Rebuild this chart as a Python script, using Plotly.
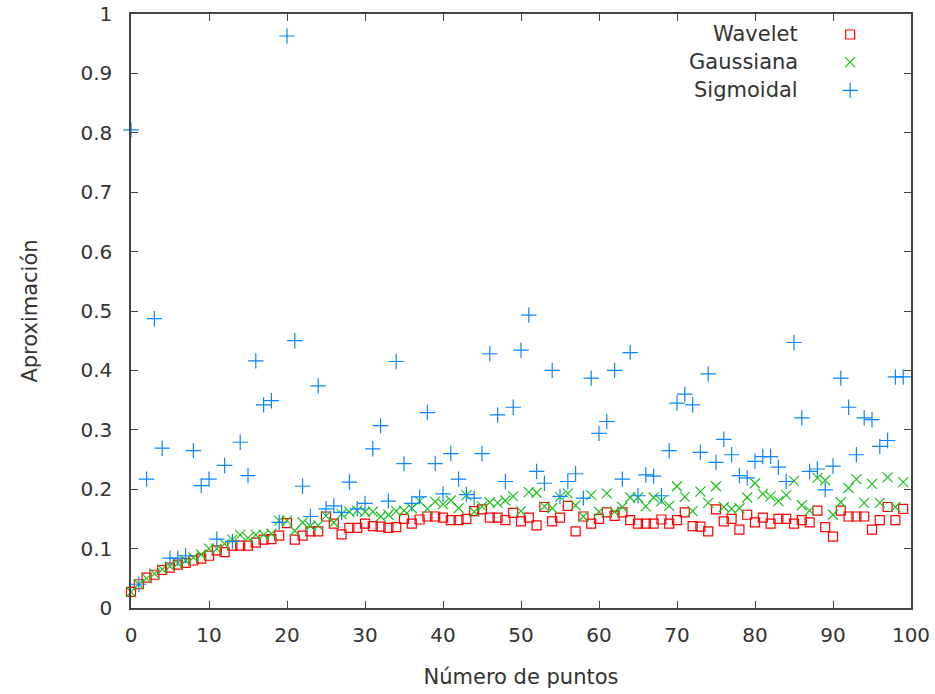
import plotly.graph_objects as go

# Number of points used in each approximation run
puntos = list(range(100))

wavelet = [
    0.027, 0.040, 0.051, 0.056, 0.064, 0.068, 0.073, 0.076, 0.080, 0.083,
    0.088, 0.097, 0.094, 0.105, 0.105, 0.105, 0.110, 0.115, 0.116, 0.122,
    0.143, 0.115, 0.122, 0.129, 0.129, 0.154, 0.142, 0.124, 0.135, 0.135,
    0.142, 0.138, 0.137, 0.135, 0.136, 0.150, 0.142, 0.149, 0.154, 0.154,
    0.152, 0.148, 0.148, 0.150, 0.163, 0.166, 0.152, 0.152, 0.148, 0.160,
    0.146, 0.152, 0.139, 0.170, 0.146, 0.152, 0.172, 0.129, 0.154, 0.142,
    0.150, 0.161, 0.155, 0.161, 0.148, 0.142, 0.142, 0.142, 0.149, 0.142,
    0.148, 0.161, 0.138, 0.137, 0.129, 0.166, 0.146, 0.150, 0.132, 0.157,
    0.144, 0.152, 0.142, 0.150, 0.150, 0.142, 0.148, 0.144, 0.164, 0.136,
    0.120, 0.164, 0.154, 0.154, 0.154, 0.132, 0.148, 0.170, 0.148, 0.167,
]

gaussiana = [
    0.027, 0.040, 0.050, 0.058, 0.065, 0.070, 0.075, 0.080, 0.085, 0.090,
    0.100, 0.100, 0.108, 0.115, 0.123, 0.118, 0.123, 0.123, 0.125, 0.147,
    0.147, 0.130, 0.144, 0.138, 0.139, 0.155, 0.144, 0.158, 0.162, 0.164,
    0.162, 0.162, 0.154, 0.157, 0.163, 0.164, 0.168, 0.180, 0.167, 0.179,
    0.175, 0.181, 0.168, 0.190, 0.162, 0.171, 0.178, 0.177, 0.181, 0.188,
    0.163, 0.195, 0.194, 0.171, 0.168, 0.187, 0.193, 0.173, 0.154, 0.190,
    0.162, 0.193, 0.162, 0.170, 0.186, 0.186, 0.171, 0.186, 0.180, 0.172,
    0.205, 0.187, 0.163, 0.196, 0.177, 0.205, 0.170, 0.167, 0.168, 0.186,
    0.210, 0.192, 0.188, 0.180, 0.190, 0.214, 0.173, 0.164, 0.219, 0.215,
    0.157, 0.178, 0.202, 0.217, 0.177, 0.209, 0.177, 0.220, 0.170, 0.212,
]

sigmoidal = [
    0.805, 0.040, 0.217, 0.487, 0.269, 0.084, 0.084, 0.088, 0.265, 0.206,
    0.217, 0.116, 0.240, 0.112, 0.279, 0.223, 0.416, 0.342, 0.349, 0.144,
    0.963, 0.450, 0.205, 0.154, 0.374, 0.167, 0.172, 0.161, 0.212, 0.167,
    0.176, 0.268, 0.307, 0.180, 0.415, 0.243, 0.176, 0.187, 0.329, 0.243,
    0.192, 0.260, 0.217, 0.191, 0.185, 0.260, 0.428, 0.325, 0.213, 0.338,
    0.434, 0.493, 0.230, 0.210, 0.400, 0.188, 0.213, 0.226, 0.185, 0.387,
    0.294, 0.314, 0.400, 0.217, 0.430, 0.189, 0.224, 0.222, 0.189, 0.265,
    0.345, 0.360, 0.342, 0.262, 0.394, 0.245, 0.284, 0.258, 0.223, 0.219,
    0.247, 0.255, 0.255, 0.237, 0.213, 0.447, 0.320, 0.230, 0.234, 0.199,
    0.239, 0.387, 0.338, 0.258, 0.320, 0.317, 0.272, 0.282, 0.389, 0.389,
]

x_ticks = [0, 10, 20, 30, 40, 50, 60, 70, 80, 90, 100]
y_ticks = [0, 0.1, 0.2, 0.3, 0.4, 0.5, 0.6, 0.7, 0.8, 0.9, 1]

series = [
    ("Wavelet", wavelet, "square-open", "#ff0000", 9),
    ("Gaussiana", gaussiana, "x-thin-open", "#1cc01c", 10),
    ("Sigmoidal", sigmoidal, "cross-thin-open", "#0a84ff", 11),
]

FONT = "DejaVu Sans"
TEXT = "#333333"
AXIS = "#444444"

fig = go.Figure()

for name, values, symbol, color, size in series:
    fig.add_trace(go.Scatter(
        x=puntos, y=values, mode="markers", name=name, showlegend=False,
        marker=dict(symbol=symbol, size=size, color=color,
                    line=dict(color=color, width=1.2)),
        cliponaxis=False,
    ))

# Key in the upper right corner: right-aligned label, symbol to its right
key_text_x = 0.858
key_mark_x = 0.922
key_rows = [0.9655, 0.919, 0.8714]
for (name, _, symbol, color, size), ky in zip(series, key_rows):
    fig.add_trace(go.Scatter(
        x=[key_mark_x], y=[ky], xaxis="x2", yaxis="y2", mode="markers",
        showlegend=False, hoverinfo="skip",
        marker=dict(symbol=symbol, size=size, color=color,
                    line=dict(color=color, width=1.2)),
    ))
    fig.add_annotation(
        x=key_text_x, y=ky, xref="paper", yref="paper", text=name,
        showarrow=False, xanchor="right", yanchor="middle",
        font=dict(family=FONT, size=21, color=TEXT),
    )

axis_common = dict(
    showline=True, linecolor=AXIS, linewidth=1.5, mirror="ticks",
    ticks="inside", ticklen=7, tickwidth=1.2, tickcolor=AXIS,
    showgrid=False, zeroline=False, automargin=False,
    tickfont=dict(family=FONT, size=20, color=TEXT),
)

fig.update_layout(
    width=935, height=694,
    margin=dict(l=131, r=24, t=13.5, b=85.5),
    paper_bgcolor="white", plot_bgcolor="white",
    font=dict(family=FONT, size=20, color=TEXT),
    xaxis=dict(
        range=[0, 100], tickvals=x_ticks, ticklabelstandoff=8,
        title=dict(text="Número de puntos", standoff=24,
                   font=dict(family=FONT, size=21, color=TEXT)),
        **axis_common,
    ),
    yaxis=dict(
        range=[0, 1], tickvals=y_ticks, ticklabelstandoff=13,
        title=dict(text="Aproximación", standoff=37,
                   font=dict(family=FONT, size=21, color=TEXT)),
        **axis_common,
    ),
    xaxis2=dict(range=[0, 1], overlaying="x", visible=False),
    yaxis2=dict(range=[0, 1], overlaying="y", visible=False),
)

fig.write_html("out.html")
